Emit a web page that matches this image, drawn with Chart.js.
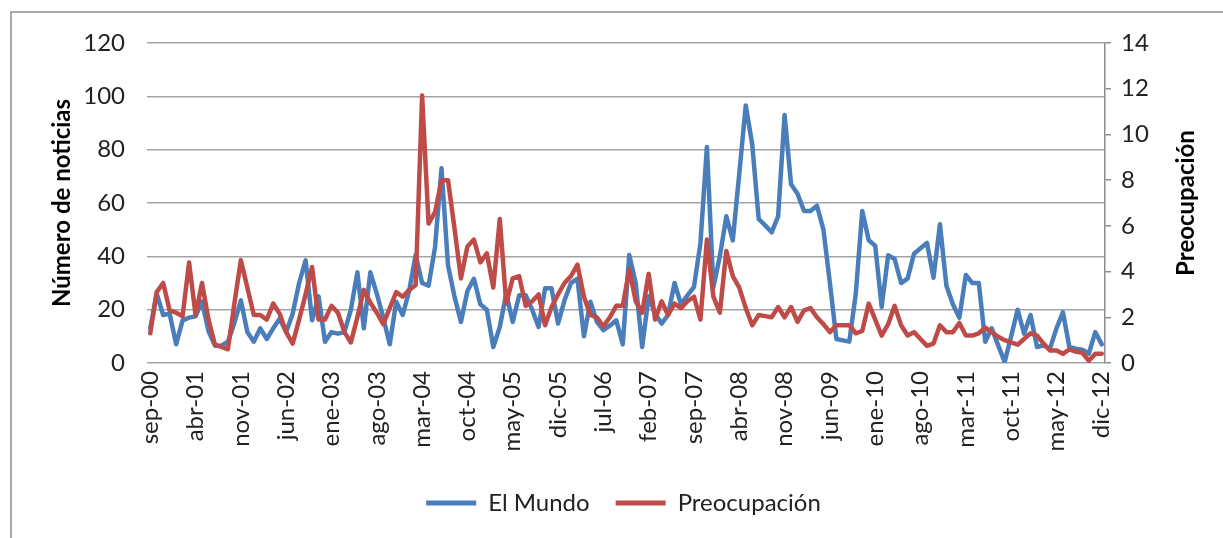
<!DOCTYPE html>
<html lang="es">
<head>
<meta charset="utf-8">
<title>El Mundo / Preocupación</title>
<script src="https://cdn.jsdelivr.net/npm/chart.js@4.4.1/dist/chart.umd.min.js"></script>
<style>
  html, body { margin: 0; padding: 0; background: #fff; }
  #wrap { width: 1223px; height: 538px; }
</style>
</head>
<body>
<div id="wrap"><canvas id="grafico" width="1223" height="538"></canvas></div>
<script>
// meses de sep-00 a dic-12
const meses = ['ene', 'feb', 'mar', 'abr', 'may', 'jun', 'jul', 'ago', 'sep', 'oct', 'nov', 'dic'];
const etiquetas = [];
for (let anio = 2000; anio <= 2012; anio++) {
  for (let m = 0; m < 12; m++) {
    if (anio === 2000 && m < 8) continue;
    etiquetas.push(meses[m] + '-' + String(anio).slice(2));
  }
}

// número de noticias (eje izquierdo)
const elMundo = [
  13, 26, 18, 18.5, 7, 16, 17, 17.5, 23, 12,
  6.5, 6.5, 8, 15, 23.5, 11.6, 8, 13, 9, 13,
  16.6, 11.6, 18.5, 30, 38.5, 16, 25, 8, 11.6, 11,
  11.6, 20, 34, 13, 34, 26, 17, 7, 23, 18,
  27, 40.5, 30, 29, 43.5, 73, 36.6, 25, 15.4, 27,
  31.6, 22, 20, 6, 13.5, 26, 15.4, 25.4, 25.4, 20,
  13.5, 28, 28, 14.8, 23.5, 30, 31.6, 10, 23, 15.4,
  12.3, 14, 16, 7, 40.5, 30, 6, 25, 18.5, 14.8,
  18, 30, 22, 25.4, 28.5, 45, 81, 28.5, 40, 55,
  46, 71, 96.6, 82, 54, 51.6, 49, 55, 93, 67,
  63.5, 57, 57, 59, 50, 30, 9, 8.5, 8, 26,
  57, 46, 44, 21, 40.4, 39, 30, 31.6, 41, 43,
  45, 32, 52, 29, 22, 17, 33, 30, 30, 8,
  13, 6.6, 0.4, 10, 20, 11, 18, 6, 6.6, 5.4,
  13, 19, 6, 5.4, 5, 3.5, 11.6, 7
];

// preocupación (eje derecho)
const preocupacion = [
  1.3, 3.1, 3.5, 2.3, 2.2, 2.05, 4.4, 2.1, 3.5, 1.9,
  0.8, 0.7, 0.6, 2.6, 4.5, 3.3, 2.1, 2.1, 1.9, 2.6,
  2.15, 1.35, 0.85, 1.9, 3.0, 4.2, 1.9, 1.9, 2.5, 2.2,
  1.35, 0.9, 2.0, 3.2, 2.65, 2.2, 1.7, 2.4, 3.1, 2.9,
  3.2, 3.4, 11.7, 6.1, 6.6, 8.0, 8.0, 5.9, 3.7, 5.1,
  5.4, 4.4, 4.8, 3.3, 6.3, 2.6, 3.7, 3.8, 2.5, 2.7,
  3.0, 1.65, 2.45, 3.0, 3.5, 3.8, 4.3, 2.9, 2.1, 2.0,
  1.6, 2.0, 2.5, 2.5, 4.1, 2.7, 2.2, 3.9, 1.9, 2.7,
  2.1, 2.6, 2.4, 2.7, 2.9, 1.9, 5.4, 2.9, 2.2, 4.9,
  3.8, 3.3, 2.4, 1.65, 2.1, 2.05, 2.0, 2.45, 2.0, 2.45,
  1.8, 2.3, 2.4, 2.0, 1.7, 1.35, 1.65, 1.65, 1.65, 1.3,
  1.4, 2.6, 1.9, 1.2, 1.7, 2.5, 1.65, 1.2, 1.35, 1.05,
  0.75, 0.85, 1.65, 1.35, 1.35, 1.75, 1.2, 1.2, 1.3, 1.55,
  1.35, 1.15, 1.0, 0.9, 0.8, 1.05, 1.3, 1.2, 0.85, 0.55,
  0.55, 0.4, 0.6, 0.5, 0.45, 0.1, 0.4, 0.4
];

const AZUL = '#4a7ebb';
const ROJO = '#be4b48';
const FUENTE = 'Lato, "Open Sans", sans-serif';

// marco exterior y título del eje derecho
const marco = {
  id: 'marco',
  beforeDraw(chart) {
    const ctx = chart.ctx;
    ctx.save();
    ctx.fillStyle = '#fff';
    ctx.fillRect(0, 0, chart.width, chart.height);
    ctx.strokeStyle = '#8c8c8c';
    ctx.lineWidth = 1.5;
    ctx.strokeRect(11, 12, chart.width + 20, chart.height + 20);
    ctx.restore();
  },
  afterDraw(chart) {
    const ctx = chart.ctx;
    const area = chart.chartArea;
    ctx.save();
    ctx.translate(1186, (area.top + area.bottom) / 2);
    ctx.rotate(-Math.PI / 2);
    ctx.font = 'bold 24px ' + FUENTE;
    ctx.fillStyle = '#000';
    ctx.textAlign = 'center';
    ctx.textBaseline = 'middle';
    ctx.fillText('Preocupación', 0, 0);
    ctx.restore();
  }
};

new Chart(document.getElementById('grafico'), {
  type: 'line',
  data: {
    labels: etiquetas,
    datasets: [
      {
        label: 'El Mundo',
        data: elMundo,
        yAxisID: 'y',
        borderColor: AZUL,
        backgroundColor: AZUL,
        borderWidth: 4.5,
        order: 2
      },
      {
        label: 'Preocupación',
        data: preocupacion,
        yAxisID: 'y1',
        borderColor: ROJO,
        backgroundColor: ROJO,
        borderWidth: 4.5,
        order: 1
      }
    ]
  },
  options: {
    responsive: false,
    animation: false,
    layout: { padding: { top: 43, left: 24, right: 0, bottom: 13 } },
    elements: {
      point: { radius: 0, hoverRadius: 0 },
      line: { tension: 0, borderJoinStyle: 'round', borderCapStyle: 'round' }
    },
    plugins: {
      tooltip: { enabled: false },
      legend: {
        position: 'bottom',
        labels: {
          boxWidth: 50,
          boxHeight: 5,
          padding: 26,
          color: '#222',
          font: { family: FUENTE, size: 24 },
          sort: (a, b) => a.datasetIndex - b.datasetIndex,
          generateLabels: (chart) =>
            Chart.defaults.plugins.legend.labels.generateLabels(chart).map(l => ({ ...l, lineWidth: 0 }))
        }
      }
    },
    scales: {
      x: {
        type: 'category',
        offset: true,
        grid: { display: false, drawTicks: false },
        border: { display: false },
        afterFit: (s) => { s.height = 102; },
        ticks: {
          autoSkip: false,
          maxRotation: 90,
          minRotation: 90,
          padding: 8,
          color: '#222',
          font: { family: FUENTE, size: 24 },
          callback: function (val, i) { return i % 7 === 0 ? this.getLabelForValue(val) : ''; }
        }
      },
      y: {
        position: 'left',
        min: 0,
        max: 120,
        afterFit: (s) => { s.width = 123; },
        ticks: { stepSize: 20, padding: 22, color: '#222', font: { family: FUENTE, size: 24 } },
        grid: { color: '#a3a3a3', lineWidth: 1.5, drawTicks: false },
        border: { display: false },
        title: {
          display: true,
          text: 'Número de noticias',
          color: '#000',
          font: { family: FUENTE, size: 24, weight: 'bold' },
          padding: { top: 24, bottom: 0 }
        }
      },
      y1: {
        position: 'right',
        min: 0,
        max: 14,
        afterFit: (s) => { s.width = 118; },
        ticks: { stepSize: 2, padding: 10, color: '#222', font: { family: FUENTE, size: 24 } },
        grid: { drawOnChartArea: false, drawTicks: true, tickLength: 6, color: '#8c8c8c', lineWidth: 1.5 },
        border: { display: true, color: '#8c8c8c', width: 1.5 }
      }
    }
  },
  plugins: [marco]
});
</script>
</body>
</html>
